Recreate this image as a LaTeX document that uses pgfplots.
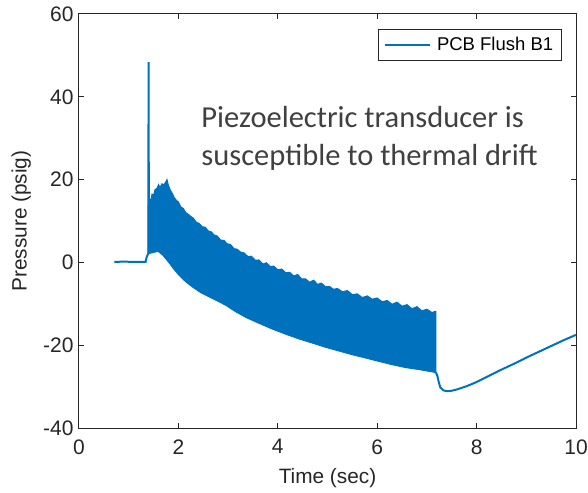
\documentclass[border=0pt]{standalone}
\usepackage{fontspec}
\setmainfont{Liberation Sans}
\newfontfamily\calibri{Carlito}
\usepackage{pgfplots}
\pgfplotsset{compat=1.18}
\definecolor{mblue}{RGB}{0,114,189}
\definecolor{axgray}{RGB}{38,38,38}
\definecolor{txtgray}{RGB}{64,64,64}
\begin{document}
\begin{tikzpicture}
\begin{axis}[
  scale only axis, width=497pt, height=414pt,
  xmin=0, xmax=10, ymin=-40, ymax=60,
  xtick={0,2,4,6,8,10}, ytick={-40,-20,0,20,40,60},
  tick align=inside, major tick length=5pt,
  axis line style={axgray, line width=1pt},
  every tick/.style={axgray, line width=1pt},
  tick label style={font=\fontsize{21}{22}\selectfont, text=axgray},
  xticklabel style={yshift=-8pt},
  yticklabel style={xshift=-2pt},
  /pgf/number format/assume math mode=true,
  xlabel={Time (sec)}, ylabel={Pressure (psig)},
  label style={font=\fontsize{20.8}{22}\selectfont, text=axgray},
  xlabel style={at={(axis description cs:0.5,-0.121)}, anchor=center},
  ylabel style={at={(axis description cs:-0.116,0.5)}, anchor=center},
  legend style={at={(0.972,0.964)}, anchor=north east, draw=axgray, line width=0.8pt,
    font=\fontsize{18.5}{19}\selectfont, inner xsep=6.5pt, inner ysep=6pt, cells={anchor=west}},
  legend image code/.code={\draw[mblue,line width=1.6pt] (0pt,0pt) -- (45pt,0pt);},
]
% pre-event baseline and spike
\addplot[mblue, line width=2pt] coordinates {
 (0.71,0.1) (0.9,0.2) (1.1,0.1) (1.34,0.1) (1.36,1.2) (1.38,1.8) (1.395,2.2) (1.40,48.4) (1.405,13)
};
\addlegendentry{\hspace{4pt}PCB Flush B1}
% dense oscillation band (upper envelope then lower envelope back)
\addplot[mblue, fill=mblue, line width=1pt, forget plot] coordinates {
 (1.39,2.1) (1.39,13.4)
 (1.41,15.5) (1.44,14.8) (1.47,16.5) (1.50,16.2) (1.53,17.6) (1.57,17.9) (1.60,18.8) (1.63,18.1)
 (1.67,19.0) (1.70,18.7) (1.74,19.3) (1.77,20.0) (1.80,18.6) (1.84,17.4) (1.88,16.6) (1.92,15.6)
 (1.96,15.0) (2.00,14.6) (2.05,13.4) (2.10,13.0) (2.15,12.0) (2.20,11.6) (2.25,11.1) (2.30,10.7)
 (2.36,9.7) (2.42,9.4) (2.48,8.6) (2.54,8.5) (2.60,7.6) (2.66,7.4) (2.72,6.6) (2.78,6.4)
 (2.85,5.4) (2.92,5.3) (2.98,4.5) (3.05,4.3) (3.12,3.3) (3.18,3.2) (3.25,2.5) (3.32,2.3)
 (3.40,1.4) (3.47,1.5) (3.55,0.5) (3.62,0.6) (3.70,-0.4) (3.77,-0.1) (3.85,-1.0) (3.92,-0.9)
 (4.00,-1.8) (4.08,-1.6) (4.16,-2.5) (4.24,-2.4) (4.32,-3.3) (4.40,-2.9) (4.48,-4.0) (4.56,-4.0)
 (4.64,-4.8) (4.72,-4.3) (4.80,-5.3) (4.88,-5.0) (4.96,-5.9) (5.04,-5.8) (5.12,-6.5) (5.20,-6.3)
 (5.30,-7.1) (5.40,-6.8) (5.50,-7.8) (5.60,-7.6) (5.70,-8.5) (5.80,-8.1) (5.90,-8.9) (6.00,-8.6)
 (6.10,-9.5) (6.20,-9.2) (6.30,-10.1) (6.40,-9.6) (6.50,-10.6) (6.60,-10.2) (6.70,-11.2) (6.80,-10.7)
 (6.90,-11.7) (7.00,-11.3) (7.10,-12.1) (7.18,-11.8)
 (7.18,-26.6)
 (6.85,-25.9) (6.57,-25.4) (6.30,-24.7) (6.03,-23.9) (5.77,-23.1) (5.50,-22.3) (5.23,-21.4)
 (4.96,-20.5) (4.70,-19.5) (4.43,-18.5) (4.15,-17.3) (3.89,-16.1) (3.60,-14.6) (3.36,-13.3)
 (3.15,-11.9) (2.96,-10.4) (2.80,-9.4) (2.63,-8.4) (2.45,-7.3) (2.29,-6.0) (2.15,-4.7)
 (2.02,-3.2) (1.90,-1.5) (1.82,-0.2) (1.69,1.7) (1.59,2.7) (1.50,2.4) (1.39,2.1)
} -- cycle;
% post-event drift
\addplot[mblue, line width=2pt, forget plot] coordinates {
 (7.18,-26.5) (7.21,-27.4) (7.24,-29.0) (7.27,-30.2) (7.33,-30.9) (7.40,-31.1) (7.50,-31.0)
 (7.60,-30.7) (7.80,-29.9) (8.00,-28.9) (8.25,-27.4) (8.50,-25.9) (8.75,-24.5) (9.00,-23.0)
 (9.25,-21.6) (9.50,-20.2) (9.75,-18.8) (10.0,-17.5)
};
\node[anchor=base west, inner sep=0, text=txtgray, font=\calibri\fontsize{30.5}{33}\selectfont]
  at (axis cs:2.46,32.6) {Piezoelectric transducer is};
\node[anchor=base west, inner sep=0, text=txtgray, font=\calibri\fontsize{30.5}{33}\selectfont]
  at (axis cs:2.46,23.3) {susceptible to thermal drift};
\end{axis}
\pgfresetboundingbox
\path[use as bounding box] ([xshift=-79pt,yshift=-64pt]current axis.south west) rectangle ([xshift=12pt,yshift=14pt]current axis.north east);
\end{tikzpicture}
\end{document}
